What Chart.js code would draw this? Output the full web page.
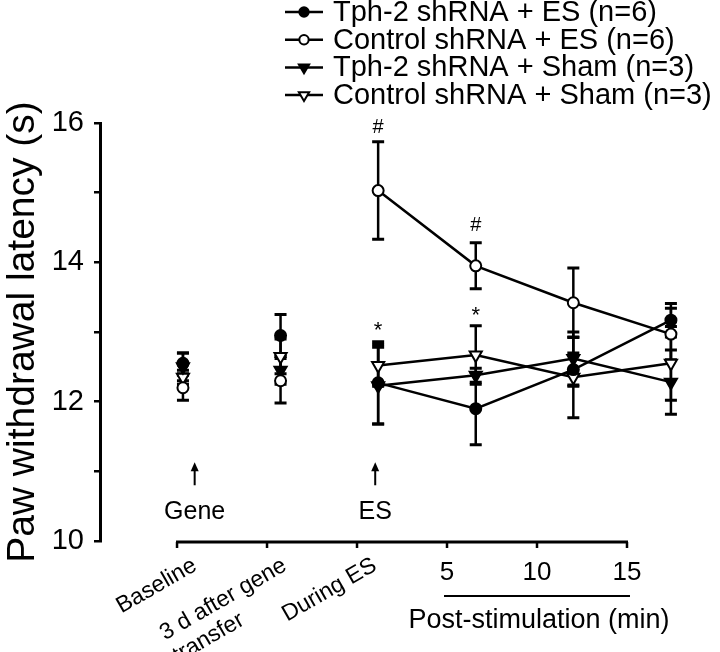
<!DOCTYPE html>
<html>
<head>
<meta charset="utf-8">
<script src="https://cdn.jsdelivr.net/npm/chart.js@4.4.1/dist/chart.umd.min.js"></script>
<style>
html, body { margin: 0; padding: 0; background: #fff; }
#wrap { width: 720px; height: 652px; position: relative; }
</style>
</head>
<body>
<div id="wrap"><canvas id="latencyChart"></canvas></div>
<script>
// time points (x categories) and tick labels
const categories = ['Baseline', ['3 d after gene', 'transfer'], 'During ES', '5', '10', '15'];
const xPositions = [0, 1, 2, 3, 4, 5];
const yTicks = [10, 12, 14, 16];

// mean paw withdrawal latency (s) and SEM per group
const tph2EsMean = [12.55, 12.95, 12.27, 11.90, 12.46, 13.17];
const tph2EsSem = [0.15, 0.30, 0.59, 0.52, 0.24, 0.24];
const ctrlEsMean = [12.20, 12.30, 15.03, 13.95, 13.42, 12.97];
const ctrlEsSem = [0.18, 0.32, 0.70, 0.33, 0.50, 0.37];
const tph2ShamMean = [12.50, 12.45, 12.23, 12.38, 12.62, 12.28];
const tph2ShamSem = [0.20, 0.20, 0.55, 0.10, 0.38, 0.46];
const ctrlShamMean = [12.35, 12.65, 12.52, 12.67, 12.35, 12.55];
const ctrlShamSem = [0.10, 0.25, 0.30, 0.42, 0.58, 0.53];

const FONT = "'Liberation Sans', Arial, sans-serif";

function toPoints(means) {
    return xPositions.map((x, i) => ({ x: x, y: means[i] }));
}

function makeDataset(label, means, sems, style, fill, radius, rotation) {
    return {
        label: label,
        data: toPoints(means),
        sem: sems,
        borderColor: '#000',
        borderWidth: 2.5,
        pointStyle: style,
        pointRotation: rotation,
        pointRadius: radius,
        pointHoverRadius: radius,
        pointBackgroundColor: fill,
        pointBorderColor: '#000',
        pointBorderWidth: 2,
        // baseline and day-3 points are not joined
        segment: {
            borderColor: c => c.p0DataIndex < 2 ? 'rgba(0,0,0,0)' : '#000'
        }
    };
}

// error bars from the SEM arrays
const errorBars = {
    id: 'errorBars',
    beforeDatasetsDraw(chart) {
        const ctx = chart.ctx;
        const xs = chart.scales.x, ys = chart.scales.y;
        ctx.save();
        ctx.strokeStyle = '#000';
        chart.data.datasets.forEach(ds => {
            ds.data.forEach((p, i) => {
                const px = xs.getPixelForValue(p.x);
                const top = ys.getPixelForValue(p.y + ds.sem[i]);
                const bot = ys.getPixelForValue(p.y - ds.sem[i]);
                ctx.lineWidth = 2.5;
                ctx.beginPath();
                ctx.moveTo(px, top);
                ctx.lineTo(px, bot);
                ctx.stroke();
                ctx.lineWidth = 3;
                ctx.beginPath();
                ctx.moveTo(px - 6, top);
                ctx.lineTo(px + 6, top);
                ctx.moveTo(px - 6, bot);
                ctx.lineTo(px + 6, bot);
                ctx.stroke();
            });
        });
        ctx.restore();
    }
};

// bottom axis is shorter than the plot and offset from the data points
const bottomAxis = {
    id: 'bottomAxis',
    afterDraw(chart) {
        const ctx = chart.ctx;
        const xa = chart.scales.xa;
        const yb = chart.chartArea.bottom + 1;
        const last = categories.length - 1;
        ctx.save();
        ctx.strokeStyle = '#000';
        ctx.fillStyle = '#000';
        ctx.lineWidth = 3;
        ctx.beginPath();
        ctx.moveTo(xa.getPixelForValue(0) - 1, yb);
        ctx.lineTo(xa.getPixelForValue(last) + 1, yb);
        ctx.stroke();
        ctx.lineWidth = 2.5;
        categories.forEach((lab, i) => {
            const px = xa.getPixelForValue(i);
            ctx.beginPath();
            ctx.moveTo(px, yb);
            ctx.lineTo(px, yb + 6);
            ctx.stroke();
            if (i < 3) {
                const lines = Array.isArray(lab) ? lab : [lab];
                ctx.save();
                ctx.translate(px + 12, yb + 12);
                ctx.rotate(-30 * Math.PI / 180);
                ctx.font = '23px ' + FONT;
                ctx.textBaseline = 'top';
                ctx.textAlign = 'left';
                const w0 = ctx.measureText(lines[0]).width;
                lines.forEach((t, j) => {
                    ctx.fillText(t, -w0, j * 26);
                });
                ctx.restore();
            } else {
                ctx.font = '26px ' + FONT;
                ctx.textAlign = 'center';
                ctx.textBaseline = 'middle';
                ctx.fillText(lab, px, yb + 31);
            }
        });
        // post-stimulation bracket
        ctx.lineWidth = 2;
        ctx.beginPath();
        ctx.moveTo(xa.getPixelForValue(3) - 3, yb + 54);
        ctx.lineTo(xa.getPixelForValue(last) + 3, yb + 54);
        ctx.stroke();
        ctx.font = '27px ' + FONT;
        ctx.textAlign = 'center';
        ctx.textBaseline = 'middle';
        ctx.fillText('Post-stimulation (min)', (xa.getPixelForValue(3) + xa.getPixelForValue(last)) / 2 + 2, yb + 79);
        ctx.restore();
    }
};

// significance marks and event arrows
const marks = [
    { text: '#', x: 2, y: 15.93, size: 20 },
    { text: '#', x: 3, y: 14.53, size: 20 },
    { text: '*', x: 2, y: 13.02, size: 22 },
    { text: '*', x: 3, y: 13.23, size: 22 }
];
const events = [
    { text: 'Gene', x: 0.12 },
    { text: 'ES', x: 1.97 }
];

const annotations = {
    id: 'annotations',
    afterDraw(chart) {
        const ctx = chart.ctx;
        const xs = chart.scales.x, ys = chart.scales.y;
        ctx.save();
        ctx.fillStyle = '#000';
        ctx.strokeStyle = '#000';
        ctx.textAlign = 'center';
        ctx.textBaseline = 'middle';
        marks.forEach(m => {
            ctx.font = m.size + 'px ' + FONT;
            ctx.fillText(m.text, xs.getPixelForValue(m.x), ys.getPixelForValue(m.y));
        });
        events.forEach(e => {
            const px = xs.getPixelForValue(e.x);
            const tip = ys.getPixelForValue(11.13);
            const tail = ys.getPixelForValue(10.80);
            ctx.lineWidth = 2;
            ctx.beginPath();
            ctx.moveTo(px, tip + 6);
            ctx.lineTo(px, tail);
            ctx.stroke();
            ctx.beginPath();
            ctx.moveTo(px, tip);
            ctx.lineTo(px - 4, tip + 9);
            ctx.lineTo(px + 4, tip + 9);
            ctx.closePath();
            ctx.fill();
            ctx.font = '25px ' + FONT;
            ctx.fillText(e.text, px, ys.getPixelForValue(10.41));
        });
        ctx.restore();
    }
};

// legend: line with marker, then the label
const lineLegend = {
    id: 'lineLegend',
    afterDraw(chart) {
        const ctx = chart.ctx;
        ctx.save();
        chart.data.datasets.forEach((ds, i) => {
            const y = 12 + i * 27.7;
            ctx.strokeStyle = '#000';
            ctx.lineWidth = 2.5;
            ctx.beginPath();
            ctx.moveTo(285, y);
            ctx.lineTo(323, y);
            ctx.stroke();
            ctx.fillStyle = ds.pointBackgroundColor;
            ctx.lineWidth = 2;
            Chart.helpers.drawPoint(ctx, {
                pointStyle: ds.pointStyle,
                rotation: ds.pointRotation,
                radius: ds.pointRadius * 0.85,
                borderWidth: 2
            }, 304, y);
            ctx.fillStyle = '#000';
            ctx.font = '29px ' + FONT;
            ctx.textAlign = 'left';
            ctx.textBaseline = 'middle';
            ctx.fillText(ds.label, 333, y + 1);
        });
        ctx.restore();
    }
};

const ctx = document.getElementById('latencyChart').getContext('2d');

const chart = new Chart(ctx, {
    type: 'line',
    data: {
        datasets: [
            makeDataset('Tph-2 shRNA + ES (n=6)', tph2EsMean, tph2EsSem, 'circle', '#000', 5.5, 0),
            makeDataset('Control shRNA + ES (n=6)', ctrlEsMean, ctrlEsSem, 'circle', '#fff', 5.5, 0),
            makeDataset('Tph-2 shRNA + Sham (n=3)', tph2ShamMean, tph2ShamSem, 'triangle', '#000', 7, 180),
            makeDataset('Control shRNA + Sham (n=3)', ctrlShamMean, ctrlShamSem, 'triangle', '#fff', 7, 180)
        ]
    },
    options: {
        responsive: true,
        maintainAspectRatio: false,
        animation: false,
        layout: {
            padding: { top: 123, bottom: 111, left: 0, right: 40 }
        },
        plugins: {
            legend: { display: false },
            tooltip: { enabled: false }
        },
        scales: {
            x: {
                type: 'linear',
                display: false,
                min: -0.85,
                max: 5.093
            },
            xa: {
                type: 'linear',
                axis: 'x',
                position: 'bottom',
                display: false,
                min: -0.856,
                max: 5.589
            },
            y: {
                min: 10,
                max: 16,
                afterFit(scale) {
                    scale.width = 100;
                },
                border: { color: '#000', width: 3 },
                grid: {
                    drawOnChartArea: false,
                    drawTicks: true,
                    tickLength: 6,
                    color: '#000',
                    lineWidth: 2.5
                },
                ticks: {
                    stepSize: 1,
                    padding: 10,
                    color: '#000',
                    font: { family: FONT, size: 29 },
                    callback: v => yTicks.includes(v) ? v : ''
                },
                title: {
                    display: true,
                    text: 'Paw withdrawal latency (s)',
                    color: '#000',
                    font: { family: FONT, size: 39 },
                    padding: 0
                }
            }
        }
    },
    plugins: [errorBars, bottomAxis, annotations, lineLegend]
});
</script>
</body>
</html>
